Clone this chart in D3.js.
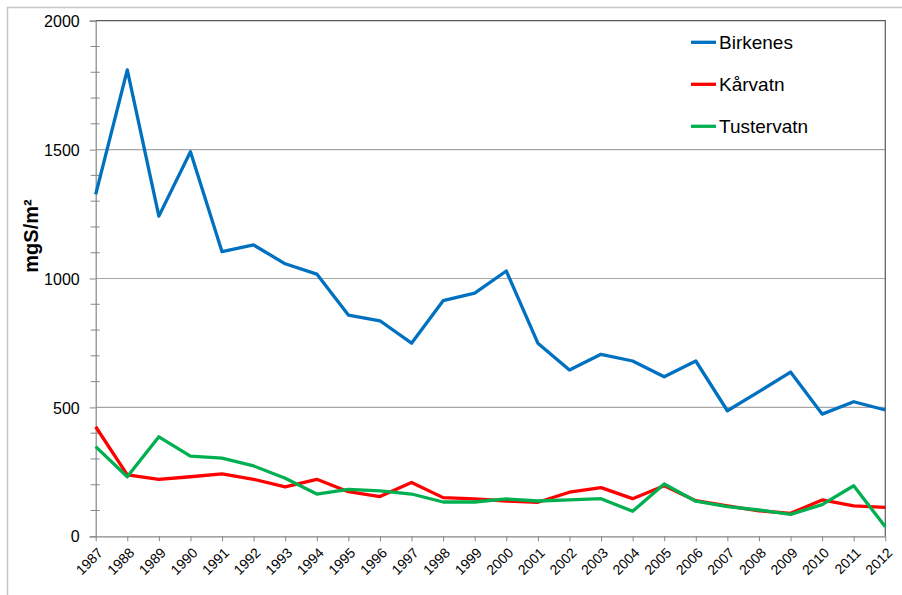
<!DOCTYPE html>
<html>
<head>
<meta charset="utf-8">
<script src="https://cdn.jsdelivr.net/npm/d3@7"></script>
<style>
  body { margin: 0; background: #fff; }
  text { font-family: "Liberation Sans", Arial, sans-serif; fill: #000; }
</style>
</head>
<body>
<div id="chart"></div>
<script>
var years = [1987, 1988, 1989, 1990, 1991, 1992, 1993, 1994, 1995, 1996, 1997, 1998, 1999,
             2000, 2001, 2002, 2003, 2004, 2005, 2006, 2007, 2008, 2009, 2010, 2011, 2012];

var birkenes = [1326, 1809, 1242, 1492, 1104, 1130, 1057, 1017, 858, 836, 749, 914, 943,
                1029, 749, 645, 706, 680, 619, 680, 487, 561, 637, 474, 522, 490];

var karvatn = [425, 238, 221, 231, 242, 221, 192, 221, 173, 154, 209, 150, 145,
               137, 132, 171, 189, 146, 196, 138, 118, 99, 89, 141, 118, 112];

var tustervatn = [348, 231, 386, 311, 303, 273, 225, 164, 182, 176, 164, 133, 133,
                  145, 137, 141, 146, 97, 203, 136, 115, 102, 85, 123, 196, 37];

var seriesNames = ["Birkenes", "Kårvatn", "Tustervatn"];
var seriesColors = ["#0070C0", "#FF0000", "#00B050"];
var yTicks = [0, 500, 1000, 1500, 2000];

var width = 902, height = 595;
var plotLeft = 95.7, plotRight = 885.3, plotTop = 20.7, plotBottom = 536.3;

var svg = d3.select("#chart").append("svg")
    .attr("width", width)
    .attr("height", height);

// chart area border
svg.append("rect")
    .attr("x", 7.5).attr("y", 7.5)
    .attr("width", 910).attr("height", 610)
    .attr("fill", "none")
    .attr("stroke", "#c6c6c6")
    .attr("stroke-width", 1.5);

var x = d3.scalePoint().domain(years).range([plotLeft, plotRight]);
var y = d3.scaleLinear().domain([0, 2000]).range([plotBottom, plotTop]);

// gridlines
svg.selectAll(".grid")
    .data(yTicks.filter(function(d) { return d > 0 && d < 2000; }))
    .enter().append("line")
    .attr("x1", plotLeft).attr("x2", plotRight)
    .attr("y1", function(d) { return y(d); })
    .attr("y2", function(d) { return y(d); })
    .attr("stroke", "#a6a6a6")
    .attr("stroke-width", 1.2);

// plot area top and right border
svg.append("path")
    .attr("d", "M" + plotLeft + "," + y(2000) + "H" + plotRight + "V" + plotBottom)
    .attr("fill", "none")
    .attr("stroke", "#5a5a5a")
    .attr("stroke-width", 1.2);

// minor ticks on y axis (cross the axis)
svg.selectAll(".minor")
    .data(d3.range(100, 2000, 100).filter(function(d) { return d % 500 !== 0; }))
    .enter().append("line")
    .attr("x1", plotLeft - 5).attr("x2", plotLeft + 4)
    .attr("y1", function(d) { return y(d); })
    .attr("y2", function(d) { return y(d); })
    .attr("stroke", "#868686");

// y axis
var yAxis = d3.axisLeft(y).tickValues(yTicks).tickFormat(d3.format("d"))
    .tickSize(6).tickPadding(10);
var gy = svg.append("g")
    .attr("transform", "translate(" + plotLeft + ",0)")
    .call(yAxis);
gy.select(".domain").attr("stroke", "#868686").attr("stroke-width", 1.2);
gy.selectAll(".tick line").attr("stroke", "#868686");
gy.selectAll(".tick text")
    .style("font-size", "16px")
    .style("font-family", "'Liberation Sans', Arial, sans-serif")
    .attr("dy", "0.35em");

// x axis
var xAxis = d3.axisBottom(x).tickSize(5).tickSizeOuter(0);
var gx = svg.append("g")
    .attr("transform", "translate(0," + plotBottom + ")")
    .call(xAxis);
gx.select(".domain").attr("stroke", "#868686").attr("stroke-width", 1.2);
gx.selectAll(".tick line").attr("stroke", "#868686");
gx.selectAll(".tick text")
    .style("font-size", "14px")
    .style("font-family", "'Liberation Sans', Arial, sans-serif")
    .attr("text-anchor", "end")
    .attr("dy", "0.35em")
    .attr("transform", "translate(4,14) rotate(-45)")
    .attr("x", 0).attr("y", 0);

// y axis title
svg.append("text")
    .attr("transform", "translate(38,236) rotate(-90)")
    .attr("text-anchor", "middle")
    .style("font-size", "20px")
    .style("font-weight", "bold")
    .text("mgS/m²");

// lines
var line = d3.line()
    .x(function(d, i) { return x(years[i]); })
    .y(function(d) { return y(d); });

var allSeries = [birkenes, karvatn, tustervatn];

svg.selectAll(".series")
    .data(allSeries)
    .enter().append("path")
    .attr("class", "series")
    .attr("d", line)
    .attr("fill", "none")
    .attr("stroke", function(d, i) { return seriesColors[i]; })
    .attr("stroke-width", 3.3)
    .attr("stroke-linejoin", "round");

// legend
var legend = svg.selectAll(".legend")
    .data(seriesNames)
    .enter().append("g")
    .attr("class", "legend")
    .attr("transform", function(d, i) { return "translate(691," + (42.3 + i * 42) + ")"; });

legend.append("line")
    .attr("x1", 0).attr("x2", 25)
    .attr("stroke", function(d, i) { return seriesColors[i]; })
    .attr("stroke-width", 3.3);

legend.append("text")
    .attr("x", 28)
    .attr("dy", "0.35em")
    .style("font-size", "19px")
    .text(function(d) { return d; });
</script>
</body>
</html>
